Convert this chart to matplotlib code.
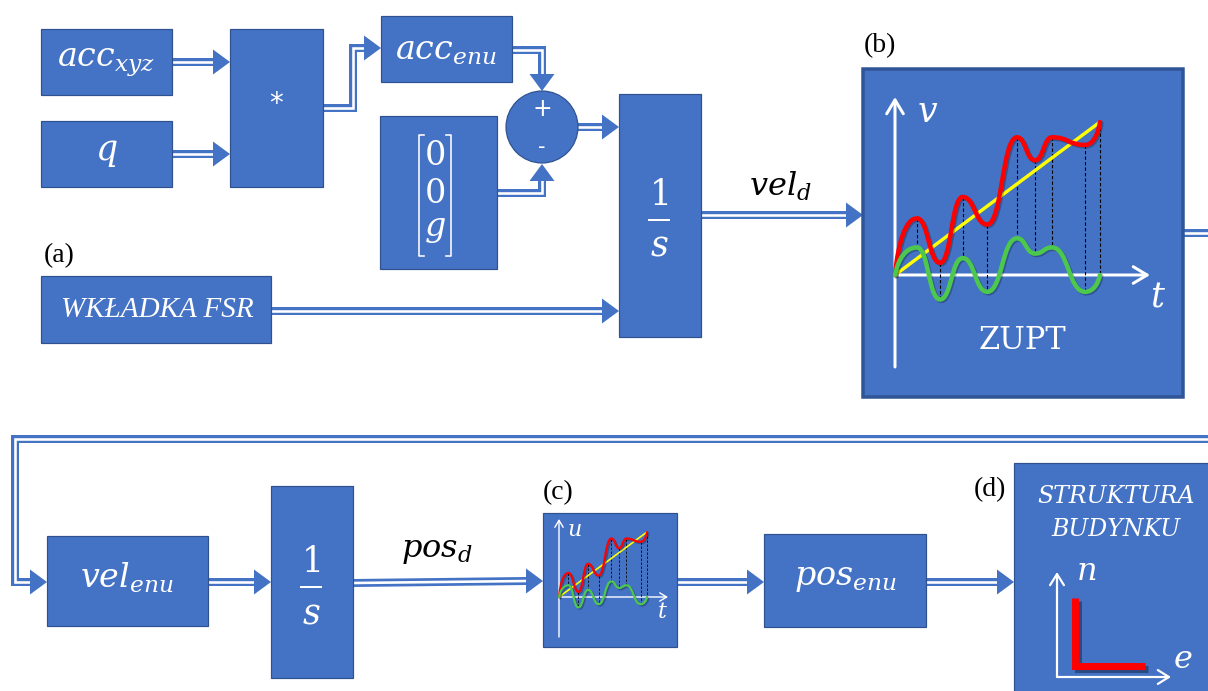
import numpy as np
import matplotlib
matplotlib.use("Agg")
import matplotlib.pyplot as plt
from matplotlib.patches import Rectangle, Circle, Polygon, PathPatch
from matplotlib.path import Path
import matplotlib.patheffects as pe

plt.rcParams['mathtext.fontset'] = 'dejavuserif'

BLUE = '#4472C4'
EDGE = '#2F528F'
PX = 0.72  # one pixel in points at dpi 100

# Sketch curves of the ZUPT panels (t normalised 0..1, v relative to the yellow ramp end)
curve_t = [0, 0.107, 0.22, 0.33, 0.45, 0.595, 0.683, 0.766, 0.927, 1.0]
red_v = [0, 0.37, 0.08, 0.51, 0.33, 0.90, 0.75, 0.90, 0.85, 1.0]
green_v = [0, 0.18, -0.16, 0.11, -0.11, 0.24, 0.14, 0.18, -0.11, 0]

# Labels
panel_labels = ['(a)', '(b)', '(c)', '(d)']

fig = plt.figure(figsize=(12.08, 6.91), dpi=100)
ax = fig.add_axes([0, 0, 1, 1])
ax.set_xlim(0, 1208)
ax.set_ylim(691, 0)
ax.axis('off')


def box(x0, y0, x1, y1, lw=1.2, ec=EDGE):
    ax.add_patch(Rectangle((x0, y0), x1 - x0, y1 - y0, fc=BLUE, ec=ec,
                           lw=lw * PX, zorder=3))


def shaft(xs, ys):
    ax.plot(xs, ys, color=BLUE, lw=8 * PX, solid_joinstyle='miter',
            solid_capstyle='butt', zorder=1)
    ax.plot(xs, ys, color='white', lw=2.6 * PX, solid_joinstyle='miter',
            solid_capstyle='butt', zorder=2)


def head(x, y, d, ln=17, hw=12.5):
    # triangle with tip at (x, y) pointing in direction d
    if d == 'r':
        pts = [(x, y), (x - ln, y - hw), (x - ln, y + hw)]
    elif d == 'd':
        pts = [(x, y), (x - hw, y - ln), (x + hw, y - ln)]
    else:  # up
        pts = [(x, y), (x - hw, y + ln), (x + hw, y + ln)]
    ax.add_patch(Polygon(pts, closed=True, fc=BLUE, ec='none', zorder=2))


def arrow(xs, ys, d):
    xs = list(xs)
    ys = list(ys)
    tip = (xs[-1], ys[-1])
    if d == 'r':
        xs[-1] -= 16
    elif d == 'd':
        ys[-1] -= 16
    else:
        ys[-1] += 16
    shaft(xs, ys)
    head(tip[0], tip[1], d)


def wtext(x, y, s, size, **kw):
    ax.text(x, y, s, color='white', fontsize=size, ha='center', va='center',
            zorder=5, **kw)


def smooth(xs, ys):
    verts = [(xs[0], ys[0])]
    codes = [Path.MOVETO]
    n = len(xs)
    for i in range(n - 1):
        x0, y0, x1, y1 = xs[i], ys[i], xs[i + 1], ys[i + 1]
        dx, dy = x1 - x0, y1 - y0
        c1 = (x0 + dx * 0.5, y0)
        c2 = (x1 - dx * 0.5, y1)
        if i == 0:
            c1 = (x0 + dx * 0.15, y0 + dy * 0.6)
        if i == n - 2:
            c2 = (x1 - dx * 0.15, y1 - dy * 0.6)
        verts += [c1, c2, (x1, y1)]
        codes += [Path.CURVE4] * 3
    return Path(verts, codes)


def zupt_plot(ox, oy, w, h, lw, dash_lw):
    tx = [ox + t * w for t in curve_t]
    ry = [oy - v * h for v in red_v]
    gy = [oy - v * h for v in green_v]
    for i in range(1, len(tx)):
        ax.plot([tx[i], tx[i]], [ry[i], gy[i]], color='black', lw=dash_lw,
                ls=(0, (3, 2)), zorder=6)
    shadow = [pe.SimpleLineShadow(offset=(1, -1), alpha=0.25), pe.Normal()]
    ax.plot([tx[0], tx[-1]], [ry[0], ry[-1]], color='#FFFF00', lw=lw * 0.75,
            zorder=7, solid_capstyle='round')
    ax.add_patch(PathPatch(smooth(tx, ry), fc='none', ec='#FF0000', lw=lw,
                           zorder=8, capstyle='round', path_effects=shadow))
    ax.add_patch(PathPatch(smooth(tx, gy), fc='none', ec='#4CC94C', lw=lw,
                           zorder=8, capstyle='round', path_effects=shadow))


def axis_arrow(x0, y0, x1, y1, lw, hl, hw):
    ax.annotate('', xy=(x1, y1), xytext=(x0, y0), zorder=6,
                arrowprops=dict(arrowstyle='->,head_length=%g,head_width=%g' % (hl, hw),
                                color='white', lw=lw, shrinkA=0, shrinkB=0))


# ---------- top row ----------
box(41, 29, 172, 95)
wtext(106, 62, r'$acc_{xyz}$', 24)
box(41, 121, 172, 187)
wtext(106, 152, r'$q$', 25)
box(230, 29, 323, 187)
wtext(276, 104, '*', 20, family='DejaVu Sans')
box(381, 16, 512, 82)
wtext(446, 50, r'$acc_{enu}$', 24)
box(380, 116, 497, 269)
# column vector [0 0 g]
for bx, sgn in [(419, 1), (451, -1)]:
    ax.plot([bx + 5 * sgn, bx, bx, bx + 5 * sgn], [135, 135, 256, 256],
            color='white', lw=1.6 * PX, zorder=5)
wtext(435, 155, r'$0$', 24)
wtext(435, 193, r'$0$', 24)
wtext(435, 228, r'$g$', 24)

ax.add_patch(Circle((542, 127), 36, fc=BLUE, ec=EDGE, lw=1.2 * PX, zorder=3))
wtext(542, 109, '+', 17, family='DejaVu Sans')
wtext(542, 147, '-', 15, family='DejaVu Sans')

box(619, 94, 701, 337)
wtext(659, 195, r'$1$', 25)
ax.plot([649, 669], [220, 220], color='white', lw=2 * PX, zorder=5)
wtext(659, 245, r'$s$', 25)

box(41, 276, 271, 343)
wtext(157, 310, 'WKŁADKA FSR', 21, family='Liberation Serif', style='italic')

arrow([172, 230], [62, 62], 'r')
arrow([172, 230], [154, 154], 'r')
arrow([323, 353, 353, 381], [108, 108, 48, 48], 'r')
arrow([512, 542, 542], [50, 50, 91], 'd')
arrow([497, 542, 542], [193, 193, 164], 'u')
arrow([577, 619], [127, 127], 'r')
arrow([271, 619], [311, 311], 'r')
arrow([701, 863], [215, 215], 'r')
ax.text(780, 186, r'$vel_d$', fontsize=23, ha='center', va='center', color='black')

# ZUPT panel (b)
box(863, 69, 1183, 397, lw=3.5, ec='#2F5597')
axis_arrow(895, 367, 895, 97, 3 * PX, 1.0, 0.6)
axis_arrow(895, 275, 1150, 275, 3 * PX, 1.0, 0.6)
zupt_plot(895, 275, 205, 153, 4.5 * PX, 1.1 * PX)
wtext(928, 112, r'$v$', 25)
wtext(1158, 296, r'$t$', 25)
wtext(1022, 340, 'ZUPT', 22, family='DejaVu Serif')

# ---------- feedback loop ----------
shaft([1183, 1215], [233, 233])
arrow([1215, 15, 15, 47], [439, 439, 582, 582], 'r')

# ---------- bottom row ----------
box(47, 536, 208, 626)
wtext(127, 578, r'$vel_{enu}$', 24)
box(271, 486, 353, 678)
wtext(311, 562, r'$1$', 25)
ax.plot([301, 321], [587, 587], color='white', lw=2 * PX, zorder=5)
wtext(311, 613, r'$s$', 25)
arrow([208, 271], [582, 582], 'r')
arrow([353, 543], [583, 581], 'r')
ax.text(437, 550, r'$pos_d$', fontsize=23, ha='center', va='center', color='black')

# small ZUPT panel (c)
box(543, 513, 677, 647)
axis_arrow(559, 637, 559, 519, 1.4 * PX, 0.5, 0.3)
axis_arrow(559, 597, 668, 597, 1.4 * PX, 0.5, 0.3)
zupt_plot(559, 597, 88, 65, 2.2 * PX, 0.8 * PX)
wtext(574, 530, r'$u$', 16)
wtext(662, 612, r'$t$', 16)

arrow([677, 764], [582, 582], 'r')
box(764, 534, 926, 627)
wtext(845, 578, r'$pos_{enu}$', 24)
arrow([926, 1014], [582, 582], 'r')

# building structure panel (d)
box(1014, 463, 1230, 700)
wtext(1116, 496, 'STRUKTURA', 17, family='DejaVu Serif', style='italic')
wtext(1116, 529, 'BUDYNKU', 17, family='DejaVu Serif', style='italic')
axis_arrow(1057, 677, 1057, 572, 2.2 * PX, 0.8, 0.5)
axis_arrow(1057, 677, 1171, 677, 2.2 * PX, 0.8, 0.5)
ax.plot([1075, 1075, 1145], [598, 666, 666], color='#FF0000', lw=7 * PX,
        solid_joinstyle='miter', solid_capstyle='butt', zorder=6,
        path_effects=[pe.SimpleLineShadow(offset=(2, -2), alpha=0.35), pe.Normal()])
wtext(1086, 571, r'$n$', 23)
wtext(1183, 660, r'$e$', 23)

# panel labels
for lab, (lx, ly) in zip(panel_labels, [(59, 256), (880, 46), (558, 493), (990, 490)]):
    ax.text(lx, ly, lab, fontsize=20, family='Liberation Serif', ha='center',
            va='center', color='black')

fig.savefig('out.png', dpi=100)
